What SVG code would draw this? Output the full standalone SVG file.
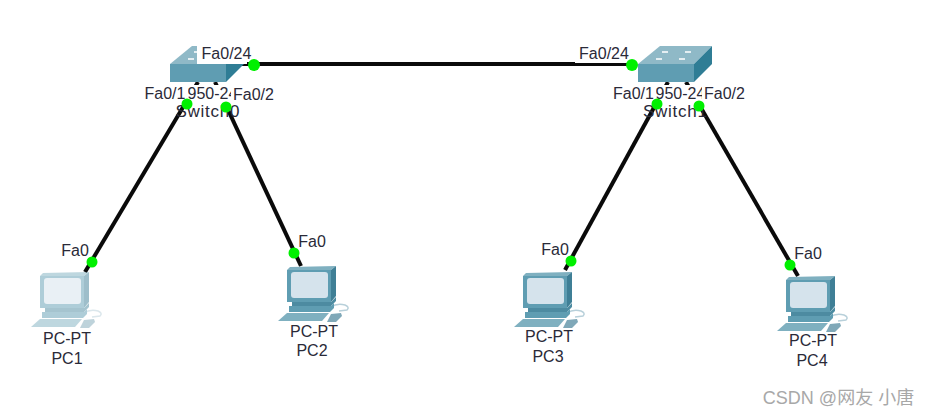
<svg xmlns="http://www.w3.org/2000/svg" width="930" height="416" viewBox="0 0 930 416">
<style>
text{font-family:"Liberation Sans",Arial,sans-serif;font-size:16px;fill:#2a2a38;text-anchor:middle}
.name{font-size:17px}
.link{stroke:#0a0a0a;stroke-width:4;fill:none}
.dot{fill:#00f000}
.bg{fill:#fff}
.mark{fill:#a8a8a8;font-size:18px;font-family:"Liberation Sans","Noto Sans CJK SC",sans-serif}
</style>
<defs>
<g id="pc">
<path d="M44 40Q50 36 58 38Q63 40 60 43L52 44" fill="none" stroke="#b8d0da" stroke-width="1.5"/>
<polygon points="0,3 3,0 49,-1 44,3" fill="#7fb0c0"/>
<polygon points="44,3 49,-1 49,29 44,35" fill="#3f7f96"/>
<rect x="0" y="3" width="44" height="32" fill="#5f9db2"/>
<rect x="4" y="5" width="37" height="26" rx="3" fill="#d5e3ec"/>
<polygon points="5,35 44,35 49,30 49,34 44,39 5,39" fill="#4d8ba1"/>
<polygon points="2,39 44,39 47,36 47,41 43,45 2,45" fill="#5f9db2"/>
<polygon points="-9,54 0,46 42,46 35,54" fill="#7fb0c0"/>
<polygon points="44,47 54,46 55,49 49,55 40,55" fill="#7fa8b8"/>
</g>
<g id="sw-body">
<polygon points="0,18 22,0 74,0 56,18" fill="#8fb9c7"/>
<polygon points="56,18 74,0 74,18 56,36" fill="#2f7d95"/>
<rect x="0" y="18" width="56" height="18" fill="#5f9db2"/>
<g fill="#e4eef2"><rect x="24" y="5" width="6" height="2"/><rect x="47" y="5" width="6" height="2"/><rect x="18" y="12" width="6" height="2"/><rect x="41" y="12" width="6" height="2"/></g>
</g>
</defs>
<rect width="930" height="416" fill="#fff"/>
<g id="connectors">
<path class="link" d="M230 64H632"/>
<path class="link" d="M198 82L85 272"/>
<path class="link" d="M215 82L301 266"/>
<path class="link" d="M668 82L565 270"/>
<path class="link" d="M686 82L798 276"/>
</g>
<g id="Switch0">
<use href="#sw-body" x="170" y="46"/>
<rect class="bg" x="197" y="44" width="50" height="20"/>
<rect class="bg" x="172" y="85" width="58" height="18"/>
<text x="208" y="99">2950-24</text>
<rect class="bg" x="141" y="85" width="47" height="18"/>
<text x="165" y="99">Fa0/1</text>
<rect class="bg" x="231" y="85" width="45" height="18"/>
<text x="253.500" y="100">Fa0/2</text>
<text x="226.500" y="59">Fa0/24</text>
<text class="name" x="207.500" y="117" textLength="64">Switch0</text>
<circle class="dot" cx="187" cy="104" r="5.500"/>
<circle class="dot" cx="226" cy="107" r="5.500"/>
<circle class="dot" cx="254" cy="65" r="6"/>
</g>
<g id="Switch1">
<use href="#sw-body" x="638" y="46"/>
<rect class="bg" x="575" y="44" width="56" height="19"/>
<rect class="bg" x="640" y="85" width="60" height="18"/>
<text x="676" y="99">2950-24</text>
<rect class="bg" x="611" y="85" width="45" height="18"/>
<text x="633.500" y="99">Fa0/1</text>
<rect class="bg" x="702" y="85" width="45" height="18"/>
<text x="724.500" y="99">Fa0/2</text>
<text x="604" y="59">Fa0/24</text>
<text class="name" x="675" y="117" textLength="64">Switch1</text>
<circle class="dot" cx="657" cy="104" r="5.500"/>
<circle class="dot" cx="699" cy="106" r="5.500"/>
<circle class="dot" cx="632" cy="65" r="6"/>
</g>
<g id="PC1">
<use href="#pc" x="40" y="273" opacity="0.5"/>
<circle class="dot" cx="92" cy="262" r="5.500"/>
<text x="75" y="256">Fa0</text>
<text x="67" y="344">PC-PT</text>
<text x="67" y="364">PC1</text>
</g>
<g id="PC2">
<use href="#pc" x="287" y="267"/>
<circle class="dot" cx="294" cy="253" r="5.500"/>
<text x="312" y="247">Fa0</text>
<text x="314" y="337">PC-PT</text>
<text x="312" y="356">PC2</text>
</g>
<g id="PC3">
<use href="#pc" x="523" y="273"/>
<circle class="dot" cx="571" cy="261" r="5.500"/>
<text x="555" y="255">Fa0</text>
<text x="549" y="342">PC-PT</text>
<text x="548" y="362">PC3</text>
</g>
<g id="PC4">
<use href="#pc" x="786" y="277"/>
<circle class="dot" cx="790" cy="265" r="5.500"/>
<text x="808" y="259">Fa0</text>
<text x="813" y="346">PC-PT</text>
<text x="812" y="366">PC4</text>
</g>
<text class="mark" x="838.500" y="404">CSDN @网友 小唐</text>
</svg>
